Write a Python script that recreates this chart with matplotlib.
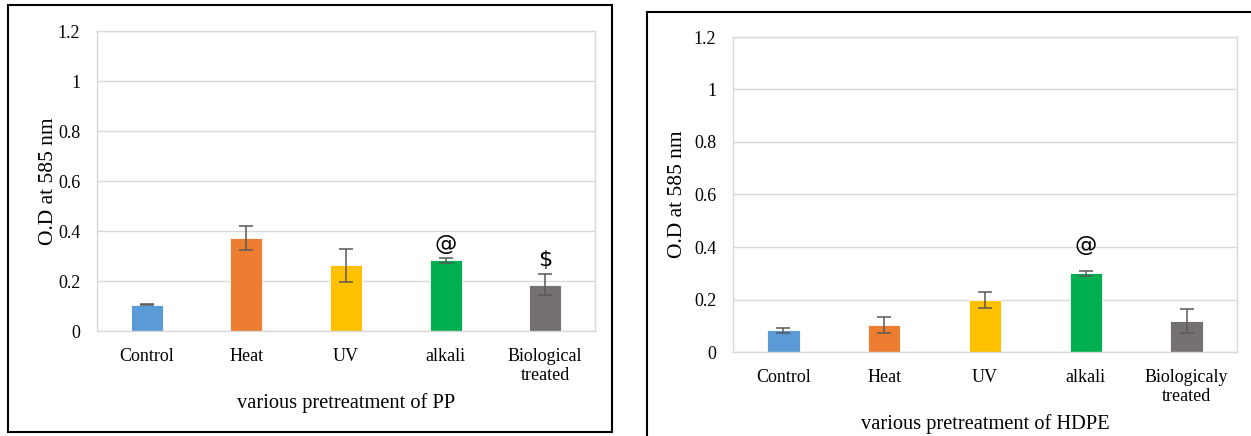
import matplotlib.pyplot as plt
from matplotlib.patches import Rectangle

# data
pp_labels = ["Control", "Heat", "UV", "alkali", "Biological\ntreated"]
pp_values = [0.105, 0.37, 0.263, 0.283, 0.185]
pp_errors = [0.003, 0.048, 0.066, 0.010, 0.043]
pp_marks = ["", "", "", "@", "$"]

hdpe_labels = ["Control", "Heat", "UV", "alkali", "Biologicaly\ntreated"]
hdpe_values = [0.083, 0.103, 0.198, 0.300, 0.118]
hdpe_errors = [0.010, 0.030, 0.030, 0.010, 0.047]
hdpe_marks = ["", "", "", "@", ""]

colors = ["#5B9BD5", "#ED7D31", "#FFC000", "#00B050", "#767171"]
yticks = [0, 0.2, 0.4, 0.6, 0.8, 1, 1.2]
yticklabels = ["0", "0.2", "0.4", "0.6", "0.8", "1", "1.2"]

plt.rcParams['font.family'] = ['Liberation Serif', 'DejaVu Serif']

fig = plt.figure(figsize=(12.51, 4.36), dpi=100)
W, H = 1251, 436

# panel frames
fig.patches.append(Rectangle((8 / W, 1 - 432 / H), 604 / W, 427 / H, transform=fig.transFigure,
                             fill=False, edgecolor="black", linewidth=1.5))
fig.patches.append(Rectangle((647 / W, 1 - 440 / H), 610 / W, 428 / H, transform=fig.transFigure,
                             fill=False, edgecolor="black", linewidth=1.5))


def draw_panel(ax, labels, values, errors, marks, xlabel, mark_off, ylab_x):
    x = range(len(labels))
    ax.bar(x, values, width=0.32, color=colors, edgecolor="white", linewidth=0.6, zorder=2)
    ax.errorbar(x, values, yerr=errors, fmt="none", ecolor="#595959", elinewidth=1.1,
                capsize=5, capthick=1.1, zorder=3)
    for i, m in enumerate(marks):
        if m:
            ax.text(i, values[i] + errors[i] + mark_off, m, ha="center", va="bottom",
                    fontsize=16, family=["DejaVu Sans"])
    ax.set_ylim(0, 1.2)
    ax.set_xlim(-0.5, len(labels) - 0.5)
    ax.set_yticks(yticks)
    ax.set_yticklabels(yticklabels)
    ax.set_xticks(list(x))
    ax.set_xticklabels(labels, linespacing=1.2)
    ax.tick_params(axis="both", length=0, labelsize=13, pad=12)
    ax.grid(axis="y", color="#D9D9D9", linewidth=1, zorder=0)
    for s in ax.spines.values():
        s.set_color("#D9D9D9")
        s.set_linewidth(1)
    ax.set_ylabel("O.D at 585 nm", fontsize=15.5, va="center")
    ax.yaxis.set_label_coords(ylab_x, 0.5)
    ax.set_xlabel(xlabel, fontsize=14.7, labelpad=6)


ax1 = fig.add_axes([97 / W, 1 - 331 / H, 498 / W, 300 / H])
draw_panel(ax1, pp_labels, pp_values, pp_errors, pp_marks, "various pretreatment of PP", 0.015, -0.098)

ax2 = fig.add_axes([733 / W, 1 - 352 / H, 504 / W, 315 / H])
draw_panel(ax2, hdpe_labels, hdpe_values, hdpe_errors, hdpe_marks, "various pretreatment of HDPE", 0.06, -0.111)

fig.savefig("out.png", dpi=100)
